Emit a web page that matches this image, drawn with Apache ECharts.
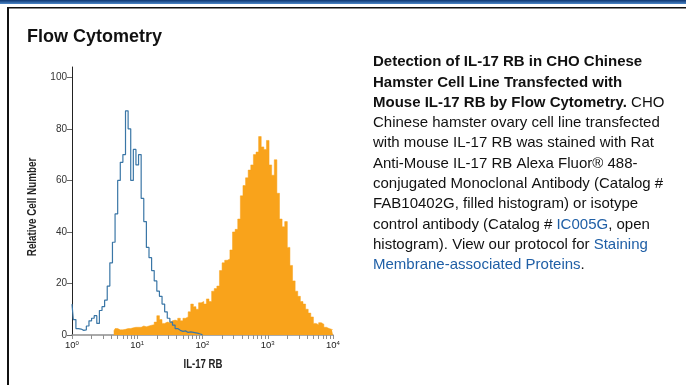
<!DOCTYPE html>
<html><head><meta charset="utf-8">
<script src="https://cdn.jsdelivr.net/npm/echarts@6/dist/echarts.min.js"></script>
<style>html,body{margin:0;padding:0;background:#fff}#c{width:686px;height:385px}</style>
</head><body><div id="c"></div>
<script>
// ---- data (log10 channel bins, 0.04 decade each) ----
const BIN_STEP = 0.04;
const isotypeStart = 0;   // first bin index of open (isotype) histogram
const isotypeCounts = [12, 6, 2.5, 2.3, 1.8, 2.0, 3.5, 5.5, 6.5, 7.5, 4.5, 9.5, 11, 13.5, 19, 28, 36, 47, 60, 67,
  70, 87, 80, 60, 72, 66, 70, 53, 44, 34, 30, 25, 21, 17, 15, 12, 9, 6.5, 5, 3.8,
  2.5, 1.8, 1.4, 1.6, 1.0, 1.2, 1.0, 0.8, 0.6, 0.3, 0];
const stainedStart = 16;  // first bin index of filled (stained) histogram
const stainedCounts = [1.5, 2.5, 2, 2, 2.2, 2.5, 2.5, 2.8, 3, 3, 3, 3.5, 3.2, 3.5, 3.8, 4, 5, 7.5, 6, 4.5,
  5, 4.8, 5.5, 5.8, 5.5, 6.5, 5.5, 6.5, 7, 9, 12, 11, 10, 12.5, 13, 12, 14, 13, 17, 18,
  19, 25, 28, 29, 29.5, 33, 40, 41, 45, 54, 58, 61, 64, 66, 70, 71, 77, 73, 72, 75.5,
  66, 62, 68, 55, 45, 42, 44, 34, 27, 21, 17, 15, 13, 12, 10, 8.5, 7, 4.5, 4, 4.8,
  4.2, 3, 2.5, 2.2, 2];
const xTickExponents = [0, 1, 2, 3, 4];
const yTickValues = [0, 20, 40, 60, 80, 100];
const xAxisTitle = 'IL-17 RB';
const yAxisTitle = 'Relative Cell Number';

const FF = '"Liberation Sans", Arial, sans-serif';
const ORANGE = '#F9A31B';
const BLUE = '#3a76a6';

const isoData = isotypeCounts.map((v, i) => [(isotypeStart + i) * BIN_STEP, v]);
const stData = stainedCounts.map((v, i) => [(stainedStart + i) * BIN_STEP, v]);
const logTicks = [];
for (let n = 0; n < 4; n++) for (let k = 1; k < 10; k++) logTicks.push(n + Math.log10(k));
logTicks.push(4);

const bodyLines = [
  '{b|Detection of IL-17 RB in CHO Chinese}',
  '{b|Hamster Cell Line Transfected with}',
  '{b|Mouse IL-17 RB by Flow Cytometry.}{n| CHO}',
  '{n|Chinese hamster ovary cell line transfected}',
  '{n|with mouse IL-17 RB was stained with Rat}',
  '{n|Anti-Mouse IL-17 RB Alexa Fluor® 488-}',
  '{n|conjugated Monoclonal Antibody (Catalog #}',
  '{n|FAB10402G, filled histogram) or isotype}',
  '{n|control antibody (Catalog # }{l|IC005G}{n|, open}',
  '{n|histogram). View our protocol for }{l|Staining}',
  '{l|Membrane-associated Proteins}{n|.}'
];
const LH = 20.3;

const chart = echarts.init(document.getElementById('c'), null, {renderer: 'canvas'});
chart.setOption({
  animation: false,
  backgroundColor: '#fff',
  grid: {left: 72, right: 353, top: 67, bottom: 50},
  xAxis: {
    type: 'value', min: 0, max: 4,
    axisLine: {show: true, lineStyle: {color: '#8f8f8f', width: 1.5}},
    axisTick: {show: true, length: 4, customValues: logTicks, lineStyle: {color: '#8f8f8f', width: 1}},
    axisLabel: {
      customValues: xTickExponents, margin: 5,
      formatter: v => '{b|10}{s|' + Math.round(v) + '}',
      rich: {
        b: {fontSize: 9.5, fontFamily: FF, color: '#222'},
        s: {fontSize: 6, fontFamily: FF, color: '#222', verticalAlign: 'top'}
      }
    },
    splitLine: {show: false}
  },
  yAxis: {
    type: 'value', min: 0, max: 104,
    axisLine: {show: true, lineStyle: {color: '#222', width: 1}},
    axisTick: {show: true, length: 5, customValues: yTickValues, lineStyle: {color: '#666'}},
    axisLabel: {customValues: yTickValues, margin: 5, fontFamily: FF, fontSize: 10, color: '#333'},
    splitLine: {show: false}
  },
  series: [
    {type: 'line', data: stData, step: 'middle', symbol: 'none', z: 2,
      lineStyle: {width: 0.5, color: ORANGE}, areaStyle: {color: ORANGE, opacity: 1}},
    {type: 'line', data: isoData, step: 'middle', symbol: 'none', z: 3,
      lineStyle: {width: 1.2, color: BLUE}}
  ],
  graphic: [
    {type: 'rect', left: 0, top: 0, z: 10, shape: {width: 686, height: 4},
      style: {fill: new echarts.graphic.LinearGradient(0, 0, 0, 1, [{offset: 0, color: '#0d3570'}, {offset: 1, color: '#4a86c8'}])}},
    {type: 'rect', left: 7, top: 7, z: 10, shape: {width: 679, height: 1.5}, style: {fill: '#111'}},
    {type: 'rect', left: 7, top: 7, z: 10, shape: {width: 2, height: 378}, style: {fill: '#111'}},
    {type: 'text', left: 27, top: 28, z: 10,
      style: {text: 'Flow Cytometry', font: 'bold 18px ' + FF, fill: '#111'}},
    {type: 'text', x: 203, y: 365, scaleX: 0.8, z: 10,
      style: {text: xAxisTitle, font: 'bold 12px ' + FF, fill: '#222', align: 'center', verticalAlign: 'middle'}},
    {type: 'text', x: 33, y: 207, rotation: Math.PI / 2, scaleX: 0.82, z: 10,
      style: {text: yAxisTitle, font: 'bold 12px ' + FF, fill: '#222', align: 'center', verticalAlign: 'middle'}},
    {type: 'text', left: 373, top: 52, z: 10,
      style: {
        text: bodyLines.join('\n'), lineHeight: LH,
        font: '15px ' + FF, fill: '#111',
        rich: {
          b: {fontFamily: FF, fontSize: 15, fontWeight: 'bold', fill: '#111', lineHeight: LH},
          n: {fontFamily: FF, fontSize: 15, fill: '#111', lineHeight: LH},
          l: {fontFamily: FF, fontSize: 15, fill: '#1f5fa6', lineHeight: LH}
        }
      }}
  ]
});
</script>
</body></html>
